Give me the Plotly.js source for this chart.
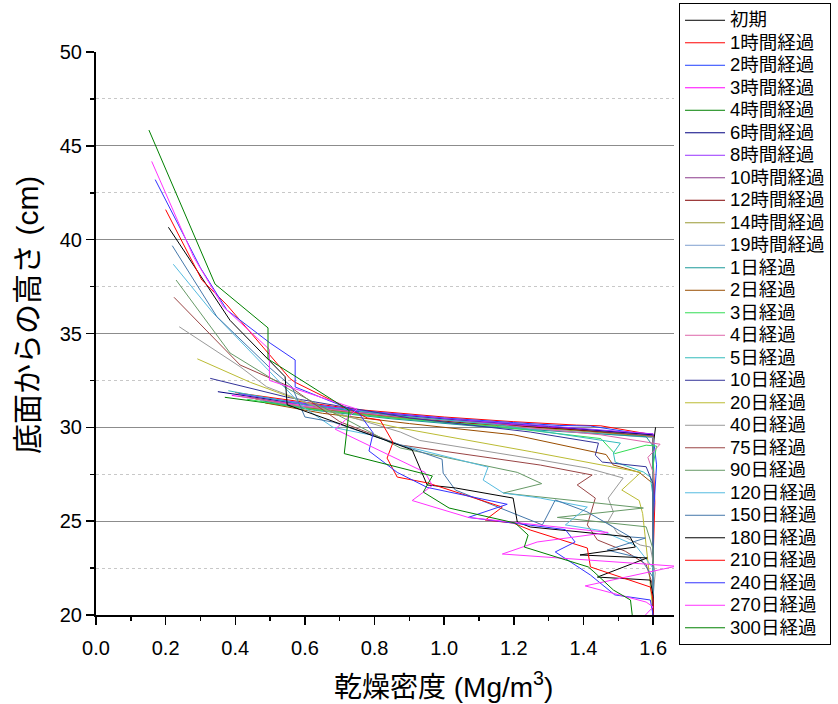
<!DOCTYPE html>
<html>
<head>
<meta charset="utf-8">
<script src="https://cdn.plot.ly/plotly-3.0.1.min.js"></script>
<style>
  html, body { margin: 0; padding: 0; background: #fff; }
  #chart { width: 838px; height: 704px; }
</style>
</head>
<body>
<div id="chart"></div>
<script>
// Dry density profiles (Mg/m3) against height above the base (cm) for each elapsed time.
const labels = ["初期","1時間経過","2時間経過","3時間経過","4時間経過","6時間経過","8時間経過",
  "10時間経過","12時間経過","14時間経過","19時間経過","1日経過","2日経過","3日経過","4日経過",
  "5日経過","10日経過","20日経過","40日経過","75日経過","90日経過","120日経過","150日経過",
  "180日経過","210日経過","240日経過","270日経過","300日経過"];

const colors = ["#000000","#FF0000","#1F3FFF","#FF00FF","#008000","#000080","#9933FF",
  "#8B3A8B","#800000","#999933","#7F9FCF","#1A9999","#994D00","#33DD55","#DD66AA",
  "#33BBBB","#333399","#BBBB33","#999999","#994444","#669966","#55BBE0","#4477AA",
  "#000000","#FF0000","#3333FF","#FF33FF","#008000"];

// initial state
const d_init = [1.607,1.603,1.6,1.6,1.601,1.6,1.6,1.6,1.6,1.6,1.6,1.6];
const h_init = [30.0,29.5,29,28,27,26,25,24,23,22,21,20];
// hours
const d_1h = [0.40,0.55,0.75,1.0,1.2,1.38,1.45,1.6,1.6,1.605,1.6,1.6];
const h_1h = [31.85,31.45,30.95,30.55,30.3,30.12,30.08,29.6,28.5,26,23,20];
const d_2h = [0.41,0.55,0.75,1.0,1.2,1.33,1.42,1.6,1.61,1.6,1.6];
const h_2h = [31.8,31.4,30.9,30.5,30.25,30.1,30.07,29.55,28,25,20];
const d_3h = [0.39,0.55,0.75,1.0,1.3,1.6,1.6,1.6];
const h_3h = [31.7,31.3,30.8,30.4,30.0,29.65,26,20];
const d_4h = [0.37,0.55,0.75,1.0,1.3,1.6,1.6,1.6];
const h_4h = [31.6,31.15,30.7,30.3,29.95,29.6,25,20];
const d_6h = [0.35,0.55,0.75,1.0,1.3,1.6,1.6,1.6];
const h_6h = [31.9,31.35,30.85,30.45,30.05,29.6,27,20];
const d_8h = [0.42,0.6,0.8,1.05,1.35,1.6,1.6,1.6];
const h_8h = [31.75,31.25,30.8,30.4,30.0,29.65,27,20];
const d_10h = [0.44,0.6,0.8,1.05,1.35,1.6,1.6];
const h_10h = [31.6,31.1,30.7,30.3,29.9,29.55,20];
const d_12h = [0.45,0.6,0.8,1.05,1.35,1.6,1.6];
const h_12h = [31.55,31.05,30.65,30.25,29.9,29.5,20];
const d_14h = [0.46,0.62,0.82,1.05,1.35,1.6,1.6];
const h_14h = [31.5,31.0,30.6,30.2,29.85,29.5,20];
const d_19h = [0.47,0.62,0.82,1.05,1.35,1.6,1.6];
const h_19h = [31.45,30.95,30.55,30.15,29.8,29.45,20];
// days
const d_1d = [0.48,0.63,0.85,1.1,1.4,1.58,1.6,1.6];
const h_1d = [31.4,30.9,30.45,30.05,29.7,29.5,29,20];
const d_2d = [0.486,0.65,0.9,1.2,1.465,1.485,1.56,1.6,1.6];
const h_2d = [31.3,30.75,30.2,29.6,28.55,28.0,27.6,27.0,20];
const d_3d = [0.433,0.6,0.85,1.15,1.45,1.49,1.58,1.61,1.6,1.6];
const h_3d = [31.5,31.0,30.5,30.05,29.4,28.6,29.05,29.0,28,20];
const d_4d = [0.409,0.6,0.85,1.15,1.45,1.62,1.585,1.6,1.6];
const h_4d = [31.67,31.1,30.6,30.15,29.6,29.1,28.4,27.6,20];
const d_5d = [0.38,0.6,0.85,1.15,1.506,1.486,1.491,1.572,1.592,1.6,1.6];
const h_5d = [31.95,31.2,30.65,30.15,29.16,28.63,28.15,27.62,27.35,26.3,20];
const d_10d = [0.328,0.55,0.9,1.247,1.443,1.434,1.454,1.5,1.58,1.6,1.6];
const h_10d = [32.61,31.6,30.5,29.75,29.16,28.52,28.15,28.05,27.9,27.0,20];
const d_20d = [0.291,0.443,0.70,0.874,1.25,1.565,1.51,1.56,1.57,1.58,1.59,1.6];
const h_20d = [33.65,32.4,30.65,29.96,28.7,27.6,26.66,26.1,25.4,23.8,22,20];
const d_40d = [0.239,0.414,0.49,0.65,0.874,0.93,1.276,1.411,1.514,1.471,1.486,1.468,1.486,1.497,1.563,1.592,1.606,1.6,1.6];
const h_40d = [35.36,33.23,32.16,31.0,29.75,29.3,28.26,27.83,27.3,26.23,25.49,24.9,24.69,24.37,23.73,23.62,22.24,21,20];
const d_75d = [0.224,0.414,0.557,0.7,0.874,1.276,1.425,1.382,1.434,1.411,1.44,1.52,1.58,1.6,1.6];
const h_75d = [36.93,33.32,32.16,30.3,29.06,27.99,27.46,26.93,26.23,24.8,24.0,23.4,22.7,21.5,20];
const d_90d = [0.23,0.385,0.557,0.874,1.21,1.28,1.17,1.572,1.325,1.58,1.6,1.6];
const h_90d = [37.85,33.96,32.0,28.9,27.6,27.0,26.5,25.7,25.2,24.7,23.5,20];
const d_120d = [0.222,0.336,0.5,0.595,0.681,0.787,0.874,1.126,1.112,1.17,1.276,1.411,1.348,1.45,1.55,1.58,1.6,1.6];
const h_120d = [38.69,36.1,32.95,31.08,30.0,29.6,29.06,27.88,27.19,26.5,26.23,25.75,24.8,24.5,23.7,23.0,22.5,20];
const d_150d = [0.219,0.347,0.5,0.563,0.6,0.681,0.994,0.997,1.032,1.282,1.319,1.41,1.534,1.578,1.468,1.563,1.6,1.6];
const h_150d = [39.68,35.9,33.16,32.15,30.55,30.28,28.3,27.56,26.66,24.8,26.13,25.5,24.16,24.1,23.46,23.04,22,20];
const d_180d = [0.208,0.385,0.543,0.549,0.908,0.951,1.032,1.198,1.21,1.247,1.534,1.549,1.39,1.583,1.44,1.592,1.6,1.6];
const h_180d = [40.66,35.7,32.7,31.2,28.8,26.93,26.77,26.23,24.95,24.69,24.16,23.62,23.2,23.04,22.02,21.86,21,20];
const d_210d = [0.2,0.304,0.376,0.557,0.572,0.779,0.816,0.853,0.836,0.865,0.954,1.167,1.118,1.198,1.247,1.411,1.42,1.592,1.6,1.6];
const h_210d = [41.6,37.85,36.52,32.6,32.4,30.5,30.39,29.2,28.36,27.35,27.03,25.75,25.06,24.9,24.53,23.57,22.56,21.49,20.8,20];
const d_240d = [0.17,0.30,0.376,0.5,0.572,0.572,0.753,0.796,0.784,0.865,0.951,1.181,1.069,1.204,1.348,1.376,1.319,1.42,1.49,1.592,1.6];
const h_240d = [43.2,38.5,36.25,34.49,33.59,32.15,30.8,29.7,28.74,27.6,26.8,25.9,25.2,24.9,24.55,23.89,23.36,22.13,21.07,20.8,20.0];
const d_270d = [0.160,0.280,0.366,0.498,0.498,0.75,0.687,0.945,0.966,0.908,1.069,1.471,1.267,1.167,1.666,1.405,1.58,1.6,1.578];
const h_270d = [44.17,39.09,36.42,34.15,32.5,30.97,29.9,27.6,26.9,26.1,25.2,24.4,23.89,23.25,22.6,21.55,20.69,20.43,20.0];
const d_300d = [0.152,0.342,0.494,0.494,0.727,0.713,0.966,0.94,1.014,1.204,1.241,1.23,1.414,1.43,1.486,1.535,1.54];
const h_300d = [45.84,37.63,35.3,33.64,30.9,28.6,27.41,26.55,25.7,24.9,24.26,23.62,22.56,22.3,21.33,20.8,20.0];

const densities = [d_init,d_1h,d_2h,d_3h,d_4h,d_6h,d_8h,d_10h,d_12h,d_14h,d_19h,
  d_1d,d_2d,d_3d,d_4d,d_5d,d_10d,d_20d,d_40d,d_75d,d_90d,d_120d,d_150d,d_180d,d_210d,d_240d,d_270d,d_300d];
const heights = [h_init,h_1h,h_2h,h_3h,h_4h,h_6h,h_8h,h_10h,h_12h,h_14h,h_19h,
  h_1d,h_2d,h_3d,h_4d,h_5d,h_10d,h_20d,h_40d,h_75d,h_90d,h_120d,h_150d,h_180d,h_210d,h_240d,h_270d,h_300d];

const xTicks = [0, 0.2, 0.4, 0.6, 0.8, 1.0, 1.2, 1.4, 1.6];
const yTicks = [20, 25, 30, 35, 40, 45, 50];
const yGrid = [25, 30, 35, 40, 45];
const yGridMinor = [22.5, 27.5, 32.5, 37.5, 42.5, 47.5];

const latin = "Liberation Sans, Arial, Noto Sans CJK JP, sans-serif";
const cjk = "Liberation Sans, Noto Sans CJK JP, sans-serif";

const traces = labels.map((name, i) => ({
  type: "scatter", mode: "lines",
  // legend rows keep a compact pitch while the entry text is set a little larger
  name: '<span style="font-size:18.5px">' + name + '</span>',
  x: densities[i], y: heights[i],
  line: { color: colors[i], width: 1 },
  xaxis: "x", yaxis: "y"
}));

// invisible companion trace that carries the grid axis
traces.push({
  type: "scatter", mode: "lines", x: [0], y: [20], showlegend: false,
  hoverinfo: "skip", line: { width: 0 }, xaxis: "x", yaxis: "y2"
});

const layout = {
  width: 838, height: 704,
  margin: { l: 96, r: 164, t: 52, b: 89, autoexpand: false },
  paper_bgcolor: "#ffffff", plot_bgcolor: "#ffffff",
  showlegend: true,
  xaxis: {
    range: [0, 1.66], showgrid: false, zeroline: false,
    showline: true, linecolor: "#000", linewidth: 2,
    ticks: "outside", ticklen: 8, tickwidth: 1.5, tickcolor: "#000",
    ticklabelstandoff: 6,
    tickmode: "array", tickvals: xTicks, ticktext: xTicks.map(v => v.toFixed(1)),
    tickfont: { family: latin, size: 20, color: "#000" },
    minor: { dtick: 0.1, ticks: "outside", ticklen: 4, tickwidth: 1.5, tickcolor: "#000", showgrid: false }
  },
  yaxis: {
    range: [20, 50], showgrid: false, zeroline: false,
    showline: true, linecolor: "#000", linewidth: 2,
    ticks: "outside", ticklen: 8, tickwidth: 1.5, tickcolor: "#000",
    tickmode: "array", tickvals: yTicks,
    tickfont: { family: latin, size: 20, color: "#000" },
    minor: { tickmode: "array", tickvals: yGridMinor, ticks: "outside", ticklen: 4, tickwidth: 1.5, tickcolor: "#000", showgrid: false }
  },
  yaxis2: {
    overlaying: "y", range: [20, 50], showline: false, zeroline: false,
    showticklabels: false, ticks: "",
    tickmode: "array", tickvals: yGrid,
    showgrid: true, gridcolor: "#8c8c8c", gridwidth: 1,
    minor: { tickmode: "array", tickvals: yGridMinor, showgrid: true, gridcolor: "#c8c8c8", griddash: "dot", gridwidth: 1 }
  },
  legend: {
    x: 1.0087, y: 1.087, xanchor: "left", yanchor: "top",
    bgcolor: "#ffffff", bordercolor: "#000", borderwidth: 1,
    font: { family: cjk, size: 15, color: "#000" },
    tracegroupgap: 0, itemwidth: 40, maxheight: 1000
  },
  annotations: [
    { text: "乾燥密度 (Mg/m<sup>3</sup>)", xref: "paper", yref: "paper",
      x: 0.602, y: -0.1243, xanchor: "center", yanchor: "middle", showarrow: false,
      font: { family: cjk, size: 28, color: "#000" } },
    { text: "底面からの高さ (cm)", xref: "paper", yref: "paper",
      x: -0.1176, y: 0.533, xanchor: "center", yanchor: "middle", showarrow: false, textangle: -90,
      font: { family: cjk, size: 30, color: "#000" } }
  ]
};

Plotly.newPlot("chart", traces, layout, { displayModeBar: false, staticPlot: true });
</script>
</body>
</html>
